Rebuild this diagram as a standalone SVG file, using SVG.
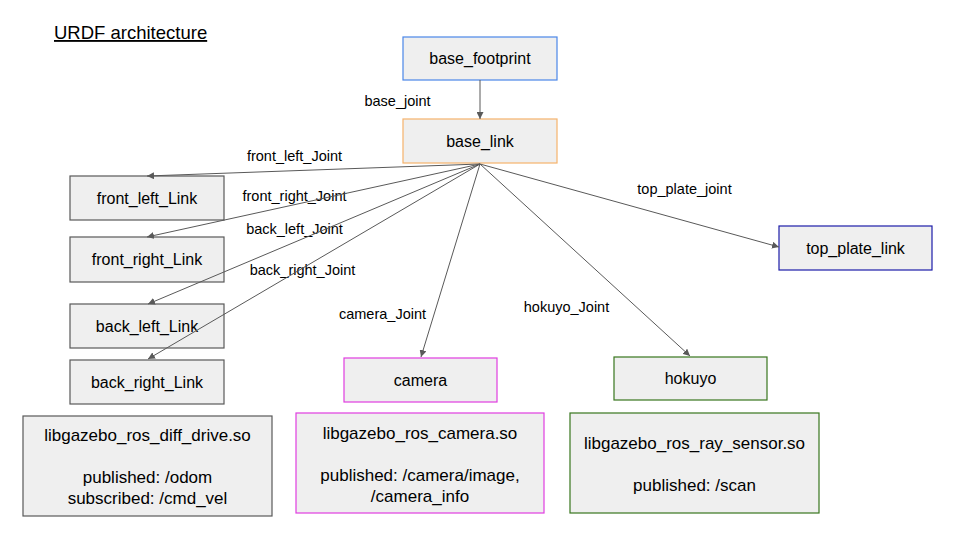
<svg xmlns="http://www.w3.org/2000/svg" width="960" height="540" viewBox="0 0 960 540">
<style>
.box{fill:#efefef;stroke:#595959;stroke-width:1.2}
.lbl{font-family:"Liberation Sans",Arial,sans-serif;font-size:16px;fill:#000;text-anchor:middle}
.elbl{font-family:"Liberation Sans",Arial,sans-serif;font-size:14.5px;fill:#000;text-anchor:middle}
.big{font-family:"Liberation Sans",Arial,sans-serif;font-size:17px;fill:#000;text-anchor:middle}
.conn line{stroke:#595959;stroke-width:1;marker-end:url(#ah)}
</style>
<defs>
<marker id="ah" viewBox="0 0 10 10" refX="10" refY="5" markerWidth="7" markerHeight="7" markerUnits="userSpaceOnUse" orient="auto">
<path d="M0,0 L10,5 L0,10 z" fill="#595959"/>
</marker>
</defs>
<rect width="960" height="540" fill="#ffffff"/>
<text x="54" y="39" font-family="Liberation Sans, Arial, sans-serif" font-size="18.5" text-decoration="underline" fill="#000">URDF architecture</text>

<g id="edge-labels">
<text class="elbl" x="397.5" y="106">base_joint</text>
<text class="elbl" x="294.5" y="161">front_left_Joint</text>
<text class="elbl" x="294.5" y="201">front_right_Joint</text>
<text class="elbl" x="294.5" y="234">back_left_Joint</text>
<text class="elbl" x="302.5" y="275">back_right_Joint</text>
<text class="elbl" x="382.5" y="319">camera_Joint</text>
<text class="elbl" x="566.5" y="312">hokuyo_Joint</text>
<text class="elbl" x="684.5" y="194">top_plate_joint</text>
</g>

<g id="base_footprint">
<rect class="box" x="403" y="37" width="154" height="43" style="stroke:#4a86e8"/>
<text class="lbl" x="480" y="64">base_footprint</text>
</g>
<g id="base_link">
<rect class="box" x="403" y="119" width="154" height="44" style="stroke:#f6b26b"/>
<text class="lbl" x="480" y="146.5">base_link</text>
</g>
<g id="front_left_Link">
<rect class="box" x="70" y="176" width="154" height="44"/>
<text class="lbl" x="147" y="203.5">front_left_Link</text>
</g>
<g id="front_right_Link">
<rect class="box" x="70" y="237" width="154" height="45"/>
<text class="lbl" x="147" y="265">front_right_Link</text>
</g>
<g id="back_left_Link">
<rect class="box" x="70" y="304" width="154" height="44"/>
<text class="lbl" x="147" y="331.5">back_left_Link</text>
</g>
<g id="back_right_Link">
<rect class="box" x="70" y="360" width="154" height="44"/>
<text class="lbl" x="147" y="387.5">back_right_Link</text>
</g>
<g id="camera">
<rect class="box" x="344" y="358" width="153" height="44" style="stroke:#e03ce0"/>
<text class="lbl" x="420.5" y="385.5">camera</text>
</g>
<g id="hokuyo">
<rect class="box" x="614" y="357" width="153" height="43" style="stroke:#38761d"/>
<text class="lbl" x="690.5" y="384">hokuyo</text>
</g>
<g id="top_plate_link">
<rect class="box" x="779" y="226" width="153" height="44" style="stroke:#1c1ca8"/>
<text class="lbl" x="855.5" y="253.5">top_plate_link</text>
</g>
<g id="diff_drive">
<rect class="box" x="23" y="416" width="249" height="100"/>
<text class="big" x="147.5" y="441">libgazebo_ros_diff_drive.so</text>
<text class="big" x="147.5" y="483">published: /odom</text>
<text class="big" x="147.5" y="504">subscribed: /cmd_vel</text>
</g>
<g id="camera_plugin">
<rect class="box" x="296" y="413" width="248" height="100" style="stroke:#e03ce0"/>
<text class="big" x="420" y="439">libgazebo_ros_camera.so</text>
<text class="big" x="420" y="481">published: /camera/image,</text>
<text class="big" x="420" y="502">/camera_info</text>
</g>
<g id="ray_sensor">
<rect class="box" x="570" y="413" width="249" height="100" style="stroke:#38761d"/>
<text class="big" x="694.5" y="449">libgazebo_ros_ray_sensor.so</text>
<text class="big" x="694.5" y="491">published: /scan</text>
</g>

<g class="conn" id="connectors">
<line x1="480" y1="80" x2="480" y2="119"/>
<line x1="480" y1="164" x2="147" y2="176"/>
<line x1="480" y1="164" x2="147" y2="237"/>
<line x1="480" y1="164" x2="148" y2="304"/>
<line x1="480" y1="164" x2="148" y2="359"/>
<line x1="480" y1="164" x2="421" y2="357"/>
<line x1="480" y1="164" x2="690" y2="356"/>
<line x1="480" y1="164" x2="779" y2="247"/>
</g>
</svg>
